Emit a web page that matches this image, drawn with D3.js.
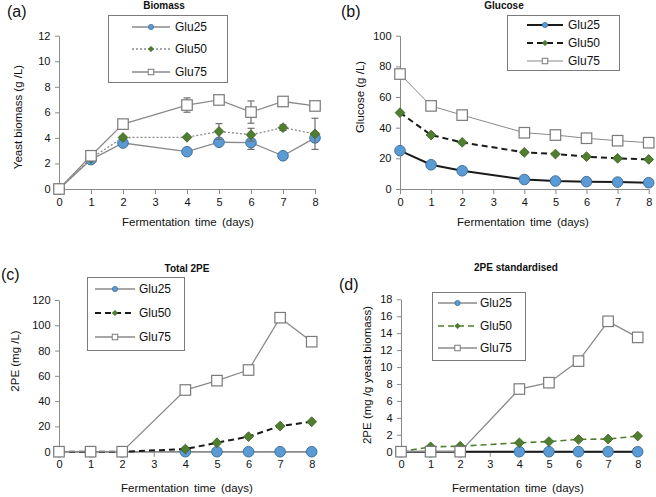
<!DOCTYPE html>
<html>
<head>
<meta charset="utf-8">
<script src="https://cdn.jsdelivr.net/npm/d3@7"></script>
<style>
  html, body { margin: 0; padding: 0; background: #fff; }
  svg { display: block; font-family: "Liberation Sans", Arial, sans-serif; }
</style>
</head>
<body>
<svg id="chart" width="656" height="497"></svg>
<script>
// ---------------- DATA ----------------
const days = [0, 1, 2, 4, 5, 6, 7, 8];
const xTickValues = [0, 1, 2, 3, 4, 5, 6, 7, 8];
const seriesNames = ["Glu25", "Glu50", "Glu75"];

// (a) Biomass (g/L)
const biomassGlu25 = [0, 2.3, 3.6, 2.92, 3.66, 3.63, 2.6, 4.0];
const biomassGlu50 = [0, 2.4, 4.03, 4.05, 4.5, 4.25, 4.8, 4.32];
const biomassGlu75 = [0, 2.6, 5.08, 6.57, 6.97, 6.02, 6.85, 6.5];
const biomassErrGlu25 = [0, 0, 0, 0, 0, 0.53, 0, 0];
const biomassErrGlu50 = [0, 0, 0, 0, 0.62, 0.5, 0.22, 1.22];
const biomassErrGlu75 = [0, 0, 0, 0.56, 0, 0.87, 0, 0];
const biomassTicks = [0, 2, 4, 6, 8, 10, 12];

// (b) Glucose (g/L)
const glucoseGlu25 = [25, 15.8, 11.9, 6.2, 5.2, 4.8, 4.5, 4.1];
const glucoseGlu50 = [49.8, 35.2, 30.4, 23.9, 22.8, 21.1, 20.0, 19.3];
const glucoseGlu75 = [75, 54.2, 48.2, 36.7, 35.2, 33.1, 31.5, 30.2];
const glucoseTicks = [0, 20, 40, 60, 80, 100];

// (c) Total 2PE (mg/L)
const pe2Glu25 = [0, 0, 0, 0, 0, 0, 0, 0];
const pe2Glu50 = [0, 0, 0, 2.1, 7.1, 11.9, 20.3, 23.7];
const pe2Glu75 = [0, 0, 0, 48.8, 56.2, 64.6, 106, 87];
const pe2Ticks = [0, 20, 40, 60, 80, 100, 120];

// (d) 2PE standardised (mg/g yeast biomass)
const pe2StdGlu25 = [0, 0, 0, 0, 0, 0, 0, 0];
const pe2StdGlu50 = [0, 0.58, 0.65, 1.05, 1.2, 1.45, 1.5, 1.85];
const pe2StdGlu75 = [0, 0, 0, 7.4, 8.15, 10.7, 15.4, 13.5];
const pe2StdTicks = [0, 2, 4, 6, 8, 10, 12, 14, 16, 18];

// ---------------- STYLE ----------------
const GRAY = "#8a8a8a";
const DARK = "#1a1a1a";
const BLUE = "#5b9bd5", BLUE_S = "#41719c";
const GREEN = "#507e2f", GREEN_S = "#3a5e22";

const panels = [
  {
    tag: "(a)", tagX: 7, tagY: 17,
    title: "Biomass", titleX: 164, titleY: 9,
    ylabel: "Yeast biomass (g /L)", ylabelX: 21.5, ylabelY: 117,
    xlabelX: 188, xlabelY: 226,
    x0: 59, x1: 315, yb: 189, yt: 35.7, ymax: 12, ticks: biomassTicks,
    values: [biomassGlu25, biomassGlu50, biomassGlu75],
    errors: [biomassErrGlu25, biomassErrGlu50, biomassErrGlu75],
    lines: [
      { color: GRAY, width: 1.3, dash: null },
      { color: GRAY, width: 1.3, dash: "2,2" },
      { color: GRAY, width: 1.3, dash: null }
    ],
    legend: { x: 108, y: 15, w: 119, h: 67, rows: [27, 49, 72], lx0: 132, lx1: 170, tx: 175 }
  },
  {
    tag: "(b)", tagX: 341, tagY: 17,
    title: "Glucose", titleX: 504, titleY: 9,
    ylabel: "Glucose (g /L)", ylabelX: 364, ylabelY: 97,
    xlabelX: 523, xlabelY: 226,
    x0: 400, x1: 648.7, yb: 189, yt: 35.7, ymax: 100, ticks: glucoseTicks,
    values: [glucoseGlu25, glucoseGlu50, glucoseGlu75],
    errors: null,
    lines: [
      { color: DARK, width: 2, dash: null },
      { color: DARK, width: 2, dash: "6,4" },
      { color: GRAY, width: 1, dash: null }
    ],
    legend: { x: 507, y: 15, w: 112, h: 55, rows: [25, 43, 61], lx0: 527, lx1: 563, tx: 568 }
  },
  {
    tag: "(c)", tagX: 1, tagY: 280,
    title: "Total 2PE", titleX: 187, titleY: 272,
    ylabel: "2PE (mg /L)", ylabelX: 19, ylabelY: 361,
    xlabelX: 187, xlabelY: 492,
    x0: 59, x1: 311.7, yb: 451.7, yt: 300, ymax: 120, ticks: pe2Ticks,
    values: [pe2Glu25, pe2Glu50, pe2Glu75],
    errors: null,
    lines: [
      { color: GRAY, width: 1.3, dash: null },
      { color: DARK, width: 2, dash: "6,4" },
      { color: GRAY, width: 1.3, dash: null }
    ],
    legend: { x: 87, y: 277, w: 97, h: 73, rows: [289, 313, 337], lx0: 95, lx1: 135, tx: 139 }
  },
  {
    tag: "(d)", tagX: 339, tagY: 290,
    title: "2PE standardised", titleX: 516, titleY: 271,
    ylabel: "2PE (mg /g yeast biomass)", ylabelX: 371, ylabelY: 375,
    xlabelX: 518, xlabelY: 492,
    x0: 401, x1: 637.7, yb: 451.7, yt: 299.3, ymax: 18, ticks: pe2StdTicks,
    values: [pe2StdGlu25, pe2StdGlu50, pe2StdGlu75],
    errors: null,
    lines: [
      { color: DARK, width: 2, dash: null, legendColor: GRAY, legendWidth: 1.3 },
      { color: GREEN, width: 1.6, dash: "6,4" },
      { color: GRAY, width: 1.3, dash: null }
    ],
    legend: { x: 432, y: 292, w: 93, h: 68, rows: [303, 326, 348], lx0: 438, lx1: 477, tx: 480 }
  }
];

// ---------------- DRAW ----------------
const svg = d3.select("#chart");

function drawMarker(g, i, cx, cy, big) {
  if (i === 0) {
    g.append("circle").attr("cx", cx).attr("cy", cy).attr("r", big ? 5.3 : 2.6)
      .attr("fill", BLUE).attr("stroke", BLUE_S).attr("stroke-width", big ? 1 : 0.8);
  } else if (i === 1) {
    const h = big ? 4.9 : 2.8;
    g.append("path")
      .attr("d", `M${cx},${cy - h}L${cx + h},${cy}L${cx},${cy + h}L${cx - h},${cy}Z`)
      .attr("fill", GREEN).attr("stroke", GREEN_S).attr("stroke-width", big ? 0.8 : 0.5);
  } else {
    const s = big ? 10.5 : 5.5;
    g.append("rect").attr("x", cx - s / 2).attr("y", cy - s / 2).attr("width", s).attr("height", s)
      .attr("fill", "#fff").attr("stroke", "#7a7a7a").attr("stroke-width", big ? 1.2 : 1);
  }
}

panels.forEach(p => {
  const g = svg.append("g");
  const x = d3.scaleLinear().domain([0, 8]).range([p.x0, p.x1]);
  const y = d3.scaleLinear().domain([0, p.ymax]).range([p.yb, p.yt]);

  // axes
  const yAxis = d3.axisLeft(y).tickValues(p.ticks).tickSize(4).tickPadding(4.5).tickSizeOuter(0);
  const xAxis = d3.axisBottom(x).tickValues(xTickValues).tickSize(5).tickPadding(4).tickSizeOuter(0);
  const ya = g.append("g").attr("transform", `translate(${p.x0},0)`).call(yAxis);
  const xa = g.append("g").attr("transform", `translate(0,${p.yb})`).call(xAxis);
  [ya, xa].forEach(a => {
    a.select(".domain").attr("stroke", GRAY).attr("stroke-width", 1);
    a.selectAll(".tick line").attr("stroke", GRAY).attr("stroke-width", 1);
    a.selectAll(".tick text").attr("fill", "#111").style("font-size", "11px")
      .style("font-family", "'Liberation Sans', Arial, sans-serif");
  });

  // series
  p.values.forEach((vals, i) => {
    const st = p.lines[i];
    const pts = days.map((d, k) => [d, vals[k]]);
    const line = d3.line().x(d => x(d[0])).y(d => y(d[1]));
    g.append("path").attr("d", line(pts)).attr("fill", "none")
      .attr("stroke", st.color).attr("stroke-width", st.width)
      .attr("stroke-dasharray", st.dash);
    // error bars
    if (p.errors) {
      const errs = p.errors[i];
      days.forEach((d, k) => {
        if (!errs[k]) return;
        const cx = x(d), lo = y(vals[k] - errs[k]), hi = y(vals[k] + errs[k]);
        const eg = g.append("g").attr("stroke", "#6f6f6f").attr("stroke-width", 1.2);
        eg.append("line").attr("x1", cx).attr("x2", cx).attr("y1", lo).attr("y2", hi);
        eg.append("line").attr("x1", cx - 3.5).attr("x2", cx + 3.5).attr("y1", lo).attr("y2", lo);
        eg.append("line").attr("x1", cx - 3.5).attr("x2", cx + 3.5).attr("y1", hi).attr("y2", hi);
      });
    }
    days.forEach((d, k) => drawMarker(g, i, x(d), y(vals[k]), true));
  });

  // legend
  const L = p.legend;
  g.append("rect").attr("x", L.x + 0.5).attr("y", L.y + 0.5).attr("width", L.w).attr("height", L.h)
    .attr("fill", "#fff").attr("stroke", "#7a7a7a").attr("stroke-width", 1);
  seriesNames.forEach((name, i) => {
    const st = p.lines[i];
    const ry = L.rows[i];
    g.append("line").attr("x1", L.lx0).attr("x2", L.lx1).attr("y1", ry).attr("y2", ry)
      .attr("stroke", st.legendColor || st.color)
      .attr("stroke-width", st.legendWidth || st.width)
      .attr("stroke-dasharray", st.dash);
    drawMarker(g, i, (L.lx0 + L.lx1) / 2, ry, false);
    g.append("text").attr("x", L.tx).attr("y", ry + 4.2).text(name)
      .style("font-size", "12px").attr("fill", "#111");
  });

  // texts
  g.append("text").attr("x", p.titleX).attr("y", p.titleY).attr("text-anchor", "middle")
    .style("font-size", "10px").style("font-weight", "bold").attr("fill", "#111").text(p.title);
  g.append("text").attr("x", p.tagX).attr("y", p.tagY)
    .style("font-size", "16px").attr("fill", "#111").text(p.tag);
  g.append("text").attr("transform", `translate(${p.ylabelX},${p.ylabelY}) rotate(-90)`)
    .attr("text-anchor", "middle").style("font-size", "11.5px").attr("fill", "#111").text(p.ylabel);
  g.append("text").attr("x", p.xlabelX).attr("y", p.xlabelY).attr("text-anchor", "middle")
    .style("font-size", "11.5px").style("word-spacing", "2px").attr("fill", "#111")
    .text("Fermentation time (days)");
});
</script>
</body>
</html>
